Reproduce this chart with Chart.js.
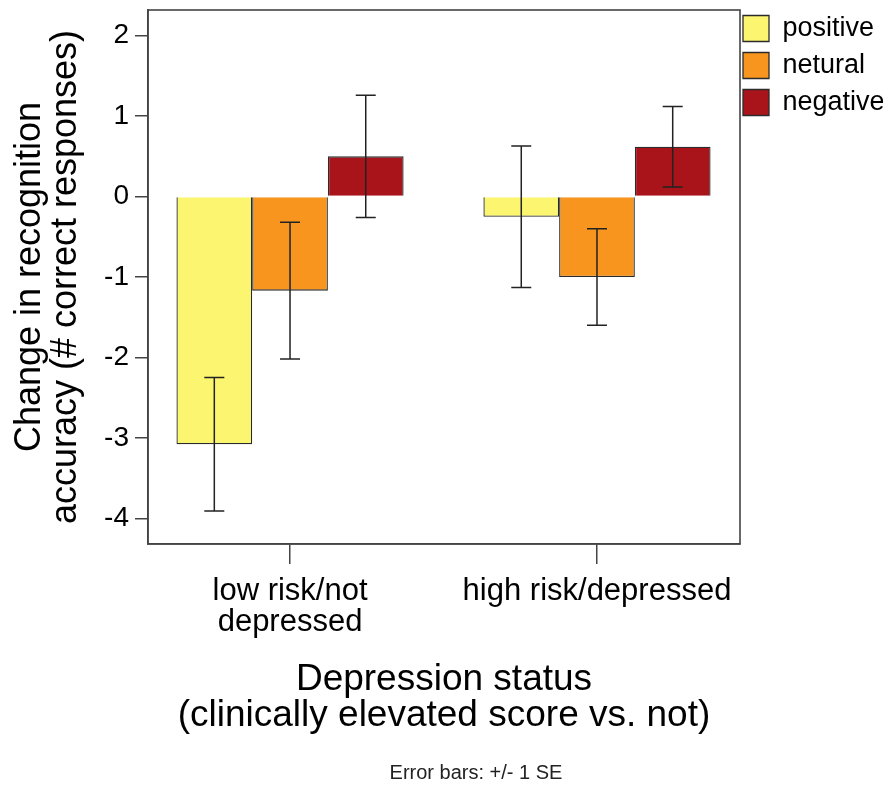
<!DOCTYPE html>
<html>
<head>
<meta charset="utf-8">
<script src="https://cdn.jsdelivr.net/npm/chart.js@4.4.1/dist/chart.umd.min.js"></script>
<style>
  html, body { margin: 0; padding: 0; background: #fff; }
  #wrap { width: 890px; height: 786px; }
</style>
</head>
<body>
<div id="wrap"><canvas id="chart" width="890" height="786"></canvas></div>
<script>
// categories on the x axis (group 0 and group 1)
const groupLabels = [['low risk/not', 'depressed'], 'high risk/depressed'];
const groupPos = [0, 1];
const seriesNames = ['positive', 'netural', 'negative'];

// mean change per group
const positive = [-3.08, -0.25];
const netural = [-1.17, -1.00];
const negative = [0.50, 0.62];

// +/- 1 SE per group
const positiveSE = [0.83, 0.88];
const neturalSE = [0.85, 0.60];
const negativeSE = [0.76, 0.50];

const yTicks = [2, 1, 0, -1, -2, -3, -4];

const fillColors = ['#fbf56f', '#f7951f', '#a9141b'];
const FONT = "'Liberation Sans', Arial, sans-serif";
const footnote = 'Error bars: +/- 1 SE';

function points(values) {
  return values.map((v, i) => ({ x: groupPos[i], y: v }));
}

// draws the SE whiskers on top of each bar
const errorBars = {
  id: 'errorBars',
  afterDatasetsDraw(chart) {
    const ctx = chart.ctx;
    const yScale = chart.scales.y;
    ctx.save();
    ctx.strokeStyle = '#222';
    ctx.lineWidth = 1.5;
    chart.data.datasets.forEach((ds, i) => {
      const meta = chart.getDatasetMeta(i);
      meta.data.forEach((bar, j) => {
        const top = yScale.getPixelForValue(ds.data[j].y + ds.se[j]);
        const bottom = yScale.getPixelForValue(ds.data[j].y - ds.se[j]);
        const x = bar.x;
        ctx.beginPath();
        ctx.moveTo(x, top);
        ctx.lineTo(x, bottom);
        ctx.moveTo(x - 10, top);
        ctx.lineTo(x + 10, top);
        ctx.moveTo(x - 10, bottom);
        ctx.lineTo(x + 10, bottom);
        ctx.stroke();
      });
    });
    ctx.restore();
  }
};

// box round the plot area + the small note under the chart
const frame = {
  id: 'frame',
  afterLayout(chart) {
    // pull legend in closer to the plot, like the original
    const lg = chart.legend;
    lg.left -= 7; lg.right -= 7;
    lg.top -= 5; lg.bottom -= 5;
  },
  afterDraw(chart) {
    const { ctx, chartArea } = chart;
    ctx.save();
    ctx.strokeStyle = '#444';
    ctx.lineWidth = 1.6;
    ctx.strokeRect(chartArea.left, chartArea.top, chartArea.right - chartArea.left, chartArea.bottom - chartArea.top);
    ctx.fillStyle = '#222';
    ctx.font = '20px ' + FONT;
    ctx.textAlign = 'center';
    ctx.textBaseline = 'middle';
    ctx.fillText(footnote, (chartArea.left + chartArea.right) / 2 + 32, chart.height - 13);
    ctx.restore();
  }
};

const config = {
  type: 'bar',
  data: {
    datasets: [
      { label: seriesNames[0], data: points(positive), se: positiveSE, backgroundColor: fillColors[0], borderColor: '#2b2b2b', borderWidth: 1.3 },
      { label: seriesNames[1], data: points(netural), se: neturalSE, backgroundColor: fillColors[1], borderColor: '#2b2b2b', borderWidth: 1.3 },
      { label: seriesNames[2], data: points(negative), se: negativeSE, backgroundColor: fillColors[2], borderColor: '#2b2b2b', borderWidth: 1.3 }
    ]
  },
  options: {
    responsive: false,
    animation: false,
    layout: { padding: { top: 10, left: 0, right: 0, bottom: 26 } },
    datasets: { bar: { categoryPercentage: 0.74, barPercentage: 1.0 } },
    plugins: {
      tooltip: { enabled: false },
      title: { display: false },
      legend: {
        position: 'right',
        align: 'start',
        maxWidth: 150,
        labels: {
          boxWidth: 26,
          boxHeight: 26,
          padding: 10,
          color: '#000',
          font: { family: FONT, size: 27 }
        }
      }
    },
    scales: {
      x: {
        type: 'linear',
        offset: false,
        min: -0.4627,
        max: 1.4659,
        grid: { display: true, offset: false, drawOnChartArea: false, drawTicks: true, tickLength: 20, color: '#444', lineWidth: 1.5 },
        border: { display: true, color: '#444', width: 1.6 },
        ticks: {
          stepSize: 1,
          includeBounds: false,
          color: '#000',
          font: { family: FONT, size: 31, lineHeight: 1.0 },
          padding: 12,
          maxRotation: 0,
          autoSkip: false,
          callback: (v) => groupLabels[v] || ''
        },
        title: {
          display: true,
          text: ['Depression status', '(clinically elevated score vs. not)'],
          color: '#000',
          font: { family: FONT, size: 37, lineHeight: 0.98 },
          padding: { top: 0, bottom: 26 }
        },
        afterFit(scale) {
          scale.height = 216;
          scale.paddingLeft = 0;
          scale.paddingRight = 0;
        }
      },
      y: {
        min: -4.32,
        max: 2.32,
        grid: { display: true, drawOnChartArea: false, drawTicks: true, tickLength: 13, color: '#444', lineWidth: 1.5 },
        border: { display: true, color: '#444', width: 1.6 },
        ticks: {
          includeBounds: false,
          color: '#000',
          font: { family: FONT, size: 28 },
          padding: 6
        },
        afterBuildTicks(scale) {
          scale.ticks = yTicks.map(v => ({ value: v }));
        },
        title: {
          display: true,
          text: ['Change in recognition', 'accuracy (# correct responses)'],
          color: '#000',
          font: { family: FONT, size: 36, lineHeight: 1.0 },
          padding: { top: 12, bottom: 0 }
        },
        afterFit(scale) {
          scale.width = 148;
          scale.paddingTop = 0;
          scale.paddingBottom = 0;
        }
      }
    }
  },
  plugins: [errorBars, frame]
};

new Chart(document.getElementById('chart'), config);
</script>
</body>
</html>
